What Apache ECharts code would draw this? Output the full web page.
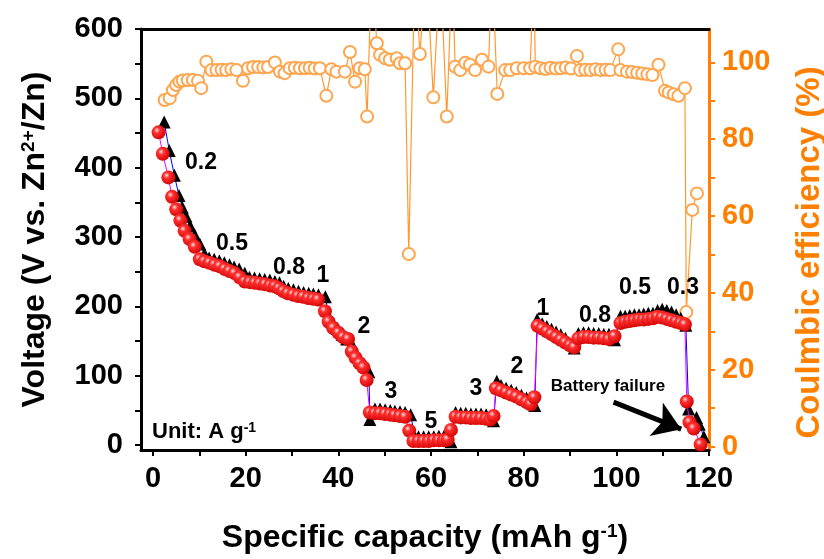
<!DOCTYPE html>
<html>
<head>
<meta charset="utf-8">
<script src="https://cdn.jsdelivr.net/npm/echarts@6/dist/echarts.min.js"></script>
<style>
html, body { margin: 0; padding: 0; background: #fff; }
#chart { width: 824px; height: 559px; }
</style>
</head>
<body>
<div id="chart"></div>
<script>
// red balls (discharge), mAh g-1 vs value
let ballX = [1.2,2.1,3.3,4.1,5.0,5.9,6.8,7.9,9.0,10.1,
	11.1,12.2,13.3,14.4,15.5,16.5,17.6,18.7,
	19.8,20.9,22.0,23.1,24.2,25.3,26.3,27.2,28.1,29.1,30.2,31.3,32.4,33.5,34.6,35.6,
	37.1,37.9,38.9,40.0,41.0,42.1,
	42.9,43.7,44.6,45.4,46.1,
	46.8,47.9,49.0,50.1,51.2,52.2,53.3,54.4,
	55.3,56.2,57.3,58.4,59.5,60.6,61.7,62.8,63.6,
	64.3,65.3,66.4,67.5,68.6,69.7,70.8,71.9,72.8,73.5,
	74.0,75.1,76.2,77.3,78.4,79.5,80.6,81.5,82.3,
	83.0,84.0,85.0,86.0,87.0,88.0,89.0,90.0,90.9,
	91.8,92.9,94.0,95.1,96.2,97.3,98.4,99.6,
	100.9,101.9,102.9,103.9,104.9,105.9,106.9,107.9,108.9,
	109.9,110.9,111.9,112.9,113.9,114.8,
	115.2,115.8,116.7,118.2];
let ballY = [451,420,386,358,340,324,309,297,286,268,
	265,263,260,258,254,251,248,242,
	236,235,234,233,232,230,229,226,222,219,217,215,214,212,211,210,
	193,178,169,162,156,153,
	135,126,118,112,94,
	47,46,46,45,44,43,42,41,
	21,6,6,6,6,7,7,7,8,
	22,41,40,40,39,39,39,38,37,42,
	82,79,76,73,70,66,62,59,69,
	172,168,164,160,156,152,148,144,141,
	154,156,156,155,155,154,153,157,
	176,178,179,180,181,181,182,183,185,
	184,182,180,178,176,174,
	63,33,24,1];

// black triangles (charge)
let triX = [2.4,3.5,4.6,5.6,6.3,7.1,8.0,9.0,10.1,11.1,
	12.1,13.2,14.3,15.4,16.5,17.5,18.6,19.8,
	20.8,21.9,23.0,24.1,25.2,26.3,27.3,28.2,29.2,30.3,31.4,32.5,33.6,34.6,35.7,37.2,
	37.9,38.8,39.8,40.8,41.8,42.9,
	43.8,44.6,45.5,46.6,
	46.8,47.9,49.0,50.1,51.2,52.2,53.3,54.4,55.6,
	56.5,57.3,58.4,59.5,60.6,61.7,62.8,64.3,
	65.3,66.4,67.5,68.6,69.7,70.8,71.9,73.5,
	74.2,75.1,76.2,77.3,78.4,79.5,80.6,82.4,
	82.9,84.0,85.0,86.0,87.0,88.0,89.0,90.9,
	91.8,92.9,94.0,95.1,96.2,97.3,98.4,99.6,
	100.9,101.9,102.9,103.9,104.9,105.9,106.9,107.9,108.9,
	109.9,110.9,111.9,112.9,113.9,115.0,
	115.6,117.3,117.9,118.9];
let triY = [466,425,389,360,343,330,316,303,290,276,
	270,268,266,263,260,257,254,248,
	242,241,240,239,238,236,234,229,226,224,222,220,219,218,217,214,
	186,176,168,160,153,146,
	130,122,116,106,
	37,52,52,51,50,49,48,47,44,
	12,12,12,12,12,13,13,5,
	47,46,46,45,45,45,44,35,
	92,86,82,79,76,72,68,57,
	181,175,171,167,163,159,154,140,
	161,162,162,161,161,160,160,152,
	186,186,187,188,188,189,190,190,194,
	196,194,192,188,183,173,
	52,40,30,12];

// coulombic efficiency (%)
let ceX = [2.5,3.6,4.3,5.0,5.7,6.4,7.5,8.6,9.7,10.4,
	11.5,12.6,13.7,14.8,15.8,16.9,18.0,19.4,20.5,21.6,
	22.7,23.8,24.8,26.3,27.4,28.4,29.5,30.6,31.7,32.8,
	33.8,34.9,36.0,37.4,38.5,39.6,41.4,42.5,43.6,44.6,
	45.7,46.2,47.2,48.3,49.0,50.1,51.1,52.6,53.3,54.4,
	55.2,56.5,57.6,59.0,60.5,62.0,63.4,64.6,65.2,66.3,
	67.4,68.4,69.5,71.0,72.4,73.2,74.3,76.0,77.1,78.5,
	80.0,81.4,82.2,82.5,83.6,84.7,85.8,86.9,88.0,89.1,
	90.2,91.5,92.2,93.3,94.4,95.5,96.6,97.7,98.7,100.4,
	100.9,102.3,103.4,104.5,105.6,106.7,107.8,109.1,110.5,111.3,
	112.4,113.4,114.8,115.1,116.4,117.4];
let ceY = [90.2,90.7,92.8,94.1,95.0,95.3,95.4,95.4,95.2,93.3,
	100.2,98.0,98.0,98.1,98.0,98.2,98.0,95.2,98.5,98.8,
	98.8,98.7,98.8,100.0,97.6,97.2,98.5,98.6,98.5,98.5,
	98.6,98.4,98.5,91.3,98.2,97.6,97.6,102.7,95.0,98.5,
	98.2,85.9,125,105.0,102.0,101.1,100.7,101.1,99.8,99.8,
	50.1,125,102.2,125,90.9,125,85.9,125,98.9,98.0,
	99.9,99.4,98.0,100.7,98.9,125,91.8,98.0,98.0,98.5,
	98.5,98.5,125,98.9,98.5,98.3,98.6,98.4,98.5,98.7,
	98.4,101.7,98.0,98.1,98.0,98.2,98.0,98.1,98.0,103.4,
	98.0,97.6,97.5,97.3,97.1,96.9,96.7,99.4,92.6,92.2,
	91.7,91.3,93.3,35.0,61.6,65.9];

let xTicks = [0,10,20,30,40,50,60,70,80,90,100,110,120];
let xLabels = [0,20,40,60,80,100,120];
let yTicks = [0,50,100,150,200,250,300,350,400,450,500,550,600];
let yLabels = [0,100,200,300,400,500,600];
let ceTicks = [0,10,20,30,40,50,60,70,80,90,100];
let ceLabels = [0,20,40,60,80,100];

// current density labels: [text, px x, px y]
let rateLabels = [
	["0.2", 201, 163], ["0.5", 232, 244], ["0.8", 289, 268], ["1", 323, 276],
	["2", 364, 327], ["3", 391, 392], ["5", 431, 422], ["3", 476, 389],
	["2", 517, 367], ["1", 543, 309], ["0.8", 595, 316], ["0.5", 635, 288],
	["0.3", 683, 288]
];

let zip = (xs, ys) => xs.map((x, i) => [x, ys[i]]);

let FONT = "Liberation Sans";
let ORANGE = "#ff8000";

let chart = echarts.init(document.getElementById("chart"));

let graphic = rateLabels.map(l => ({
	type: "text", x: l[1], y: l[2], z: 100,
	style: {text: l[0], fontSize: 23, fontWeight: "bold", fontFamily: FONT, fill: "#000", align: "center", verticalAlign: "middle"}
}));
graphic.push({
	type: "text", x: 608, y: 386, z: 100,
	style: {text: "Battery failure", fontSize: 17, fontWeight: "bold", fontFamily: FONT, fill: "#000", align: "center", verticalAlign: "middle"}
});
graphic.push({
	type: "text", x: 152, y: 432, z: 100,
	style: {
		text: "Unit: A g{sup|-1}", fontSize: 22, fontWeight: "bold", fontFamily: FONT, fill: "#000",
		align: "left", verticalAlign: "middle",
		rich: {sup: {fontSize: 14, fontWeight: "bold", fontFamily: FONT, verticalAlign: "top", lineHeight: 14}}
	}
});

let supRich = {sup: {fontSize: 19, fontWeight: "bold", fontFamily: FONT, verticalAlign: "top", lineHeight: 18}};

chart.setOption({
	animation: false,
	backgroundColor: "#fff",
	graphic: graphic,
	grid: {left: 141, right: 115, top: 29, bottom: 109, outerBoundsMode: "none", containLabel: false},
	xAxis: [{
		type: "value", min: -2.6, max: 120,
		name: "Specific capacity (mAh g{sup|-1})", nameLocation: "middle", nameGap: 72,
		nameTextStyle: {fontSize: 32, fontWeight: "bold", fontFamily: FONT, color: "#000", rich: supRich},
		axisLine: {show: true, onZero: false, lineStyle: {color: "#000", width: 3}},
		axisTick: {show: true, length: 6, customValues: xTicks, lineStyle: {color: "#000", width: 2}},
		axisLabel: {customValues: xLabels, margin: 14, fontSize: 29, fontWeight: "bold", fontFamily: FONT, color: "#000"},
		splitLine: {show: false}
	}, {
		type: "value", position: "top", min: -2.6, max: 120,
		axisLine: {show: true, onZero: false, lineStyle: {color: "#000", width: 3}},
		axisTick: {show: false}, axisLabel: {show: false}, splitLine: {show: false}
	}],
	yAxis: [{
		type: "value", min: -7, max: 600,
		name: "Voltage (V vs. Zn{sup|2+}/Zn)", nameLocation: "middle", nameGap: 90, nameRotate: 90,
		nameTextStyle: {fontSize: 32, fontWeight: "bold", fontFamily: FONT, color: "#000", rich: supRich},
		axisLine: {show: true, onZero: false, lineStyle: {color: "#000", width: 3}},
		axisTick: {show: true, length: 6, customValues: yTicks, lineStyle: {color: "#000", width: 2}},
		axisLabel: {customValues: yLabels, margin: 18, fontSize: 29, fontWeight: "bold", fontFamily: FONT, color: "#000"},
		splitLine: {show: false}
	}, {
		type: "value", position: "right", min: -0.9, max: 108.7,
		name: "Coulmbic efficiency (%)", nameLocation: "middle", nameGap: 84, nameRotate: 90,
		nameTextStyle: {fontSize: 33, fontWeight: "bold", fontFamily: FONT, color: ORANGE, padding: [0, 0, 0, -26]},
		axisLine: {show: true, onZero: false, lineStyle: {color: ORANGE, width: 3}},
		axisTick: {show: true, length: 6, customValues: ceTicks, lineStyle: {color: ORANGE, width: 2}},
		axisLabel: {customValues: ceLabels, margin: 13, fontSize: 29, fontWeight: "bold", fontFamily: FONT, color: ORANGE},
		splitLine: {show: false}
	}],
	series: [{
		name: "charge", type: "line", xAxisIndex: 0, yAxisIndex: 0, z: 3,
		data: zip(triX, triY), showAllSymbol: true,
		symbol: "triangle", symbolSize: 13,
		itemStyle: {color: "#000"},
		lineStyle: {color: "#0000ff", width: 1}
	}, {
		name: "discharge", type: "line", xAxisIndex: 0, yAxisIndex: 0, z: 4,
		data: zip(ballX, ballY), showAllSymbol: true,
		symbol: "circle", symbolSize: 14,
		itemStyle: {
			color: {type: "radial", x: 0.38, y: 0.35, r: 0.7, colorStops: [
				{offset: 0, color: "#ffe0e0"},
				{offset: 0.3, color: "#ff3030"},
				{offset: 1, color: "#d00000"}
			]}
		},
		lineStyle: {color: "#ff00ff", width: 1},
		markLine: {
			silent: true, symbol: ["none", "arrow"], symbolSize: 27,
			lineStyle: {color: "#000", width: 5, type: "solid"},
			label: {show: false},
			data: [[{coord: [99.4, 62]}, {coord: [114.0, 23]}]]
		}
	}, {
		name: "CE", type: "line", xAxisIndex: 0, yAxisIndex: 1, z: 2,
		data: zip(ceX, ceY), showAllSymbol: true,
		symbol: "emptyCircle", symbolSize: 12, clip: true,
		itemStyle: {color: "#ffa54d", borderWidth: 1.2},
		lineStyle: {color: "#ff9a33", width: 1.2}
	}]
});
</script>
</body>
</html>
